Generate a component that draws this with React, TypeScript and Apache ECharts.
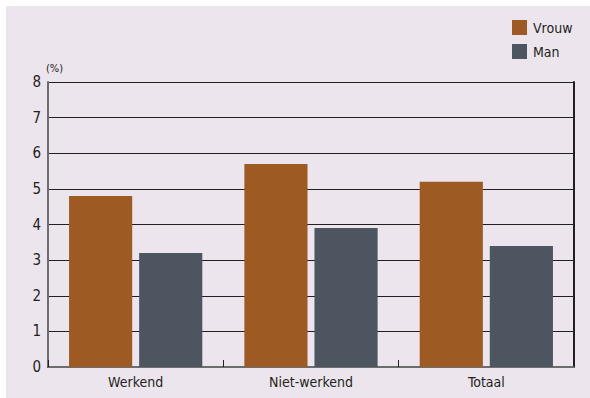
import React, { useEffect, useRef } from "react";
import * as echarts from "echarts";

const categories = ["Werkend", "Niet-werkend", "Totaal"];
const vrouw = [4.8, 5.7, 5.2];
const man = [3.2, 3.9, 3.4];
const seriesNames = ["Vrouw", "Man"];

const FONT = "'DejaVu Sans Condensed', 'Liberation Sans Narrow', 'Noto Sans', sans-serif";

export default function App() {
  const ref = useRef<HTMLDivElement>(null);
  useEffect(() => {
    document.body.style.margin = "0";
    const chart = echarts.init(ref.current!, null, { renderer: "svg" });
    chart.setOption({
      animation: false,
      backgroundColor: "#ffffff",
      textStyle: { fontFamily: FONT },
      graphic: [
        {
          type: "rect",
          z: -10,
          silent: true,
          shape: { x: 6, y: 6, width: 590, height: 398 },
          style: { fill: "#ECE5ED" },
        },
      ],
      legend: {
        orient: "vertical",
        left: 512,
        top: 20,
        padding: 0,
        itemWidth: 15,
        itemHeight: 15,
        itemGap: 9,
        icon: "rect",
        data: seriesNames,
        textStyle: { fontFamily: FONT, fontSize: 14, color: "#231f20", padding: [0, 0, 0, 1] },
      },
      grid: { left: 48, right: 16, top: 82, bottom: 31, containLabel: false },
      xAxis: [
        {
          type: "category",
          data: categories,
          axisLine: { show: true, lineStyle: { color: "#231f20", width: 2 } },
          axisTick: { show: true, inside: true, length: 7, interval: 0, alignWithLabel: false, lineStyle: { color: "#231f20", width: 1 } },
          axisLabel: { fontFamily: FONT, fontSize: 14, color: "#231f20", margin: 8 },
          splitLine: { show: false },
        },
        {
          type: "category",
          position: "top",
          data: categories,
          axisLine: { show: true, lineStyle: { color: "#6d6d6d", width: 2 } },
          axisTick: { show: false },
          axisLabel: { show: false },
        },
      ],
      yAxis: [
        {
          type: "value",
          min: 0,
          max: 8,
          interval: 1,
          name: "(%)",
          nameLocation: "end",
          nameGap: 8,
          nameTextStyle: { fontFamily: FONT, fontSize: 11, color: "#231f20", align: "left", padding: [0, 0, 0, -2] },
          axisLine: { show: true, lineStyle: { color: "#6d6d6d", width: 2 } },
          axisTick: { show: false },
          axisLabel: { fontFamily: FONT, fontSize: 15, color: "#231f20", margin: 7 },
          splitLine: { show: true, lineStyle: { color: "#231f20", width: 1 } },
        },
        {
          type: "value",
          position: "right",
          min: 0,
          max: 8,
          interval: 1,
          axisLine: { show: true, lineStyle: { color: "#231f20", width: 2 } },
          axisTick: { show: false },
          axisLabel: { show: false },
          splitLine: { show: false },
        },
      ],
      series: [
        {
          name: seriesNames[0],
          type: "bar",
          data: vrouw,
          itemStyle: { color: "#9E5A23" },
          barCategoryGap: "24%",
          barGap: "11%",
        },
        {
          name: seriesNames[1],
          type: "bar",
          data: man,
          itemStyle: { color: "#4D5561" },
          barCategoryGap: "24%",
          barGap: "11%",
        },
      ],
    });
    return () => chart.dispose();
  }, []);
  return <div ref={ref} style={{ width: 590, height: 398 }} />;
}
